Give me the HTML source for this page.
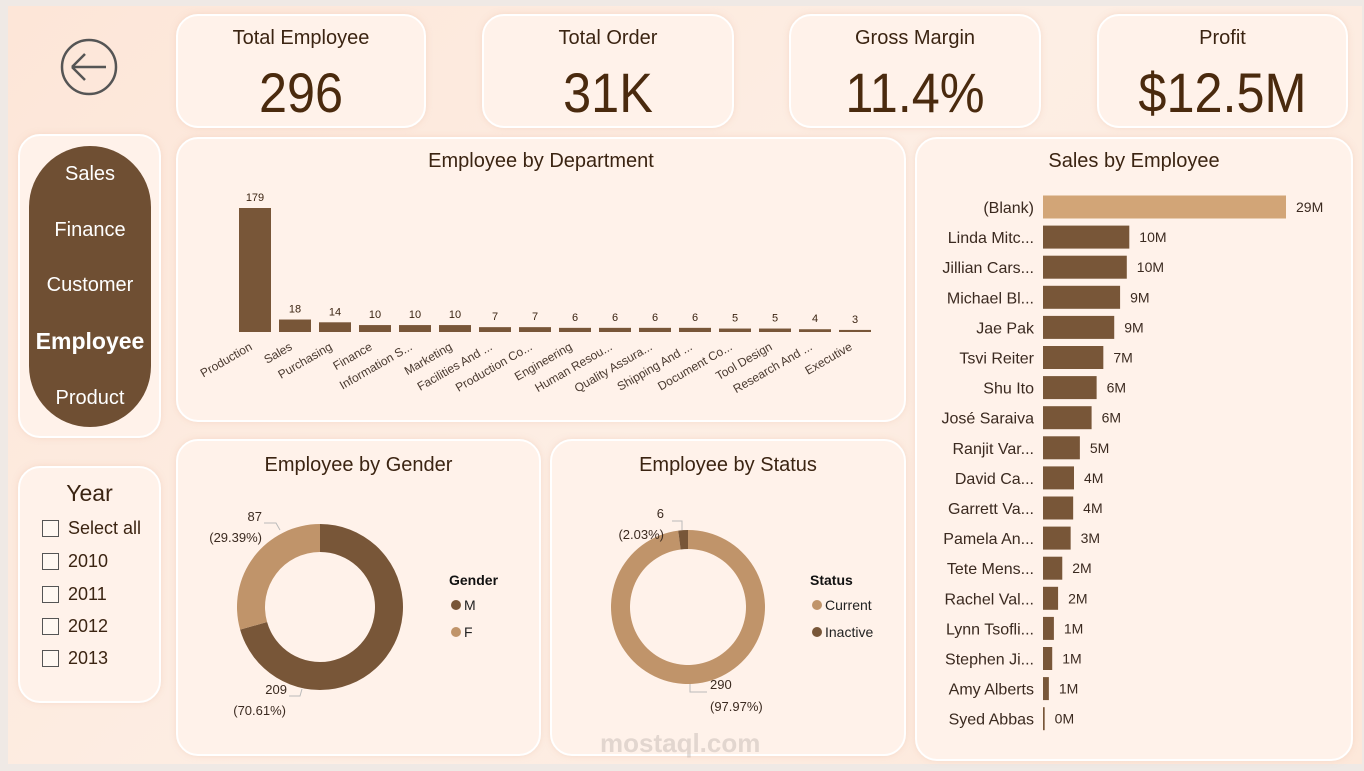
<!DOCTYPE html>
<html><head><meta charset="utf-8">
<style>
*{box-sizing:border-box;margin:0;padding:0}
body{width:1364px;height:771px;overflow:hidden;background:#efe9e5;font-family:"Liberation Sans",sans-serif;position:relative}
#bg{position:absolute;left:8px;top:6px;width:1354px;height:758px;background:linear-gradient(135deg,#fde6d8,#fdeee4 50%,#fde8da)}
.card{position:absolute;background:#fff2ea;border:2px solid #fff;border-radius:22px;box-shadow:0 0 6px rgba(240,200,180,.5)}
.kt{position:absolute;left:0;right:0;top:11px;text-align:center;font-size:20px;color:#3b2412}
.kv{position:absolute;left:0;right:0;top:44px;text-align:center;font-size:56px;color:#4a2a0e;transform:scaleX(.9)}
.ct{position:absolute;left:0;right:0;text-align:center;font-size:20px;color:#3b2412}
svg text{font-family:"Liberation Sans",sans-serif}
.nav{position:absolute;left:0;right:0;text-align:center;color:#fff;font-size:20px}
.yr{position:absolute;left:22px;font-size:18px;color:#3b2412;display:flex;align-items:center}
.yr span.b{display:inline-block;width:17px;height:17px;border:1.5px solid #555;margin-right:9px;background:#fff8f2}
</style></head><body>
<div id="bg"></div>

<svg style="position:absolute;left:58px;top:36px" width="62" height="62">
<circle cx="31" cy="31" r="27" fill="none" stroke="#555" stroke-width="2.5"/>
<path d="M14 31 H48 M14 31 L27 18 M14 31 L27 44" stroke="#555" stroke-width="2.5" fill="none"/>
</svg>

<div class="card" style="left:176px;top:14px;width:250px;height:114px"><div class="kt">Total Employee</div><div class="kv">296</div></div>
<div class="card" style="left:482px;top:14px;width:252px;height:114px"><div class="kt">Total Order</div><div class="kv">31K</div></div>
<div class="card" style="left:789px;top:14px;width:252px;height:114px"><div class="kt">Gross Margin</div><div class="kv">11.4%</div></div>
<div class="card" style="left:1097px;top:14px;width:251px;height:114px"><div class="kt">Profit</div><div class="kv">$12.5M</div></div>

<div class="card" style="left:18px;top:134px;width:143px;height:304px">
 <div style="position:absolute;left:9px;top:10px;width:122px;height:281px;background:#6f4f33;border-radius:61px">
  <div class="nav" style="top:17px">Sales</div>
  <div class="nav" style="top:73px">Finance</div>
  <div class="nav" style="top:128px">Customer</div>
  <div class="nav" style="top:182px;font-weight:bold;font-size:23px">Employee</div>
  <div class="nav" style="top:241px">Product</div>
 </div>
</div>

<div class="card" style="left:18px;top:466px;width:143px;height:237px">
 <div style="position:absolute;left:0;right:0;top:12px;text-align:center;font-size:23px;color:#3b2412">Year</div>
 <div class="yr" style="top:50px"><span class="b"></span>Select all</div>
 <div class="yr" style="top:83px"><span class="b"></span>2010</div>
 <div class="yr" style="top:116px"><span class="b"></span>2011</div>
 <div class="yr" style="top:148px"><span class="b"></span>2012</div>
 <div class="yr" style="top:180px"><span class="b"></span>2013</div>
</div>

<div class="card" style="left:176px;top:137px;width:730px;height:285px">
 <div class="ct" style="top:11px">Employee by Department</div>
</div>
<svg id="dept" style="position:absolute;left:176px;top:137px" width="730" height="285"></svg>

<div class="card" style="left:915px;top:137px;width:438px;height:624px">
 <div class="ct" style="top:11px">Sales by Employee</div>
</div>
<svg id="sales" style="position:absolute;left:915px;top:137px" width="438" height="624"></svg>

<div class="card" style="left:176px;top:439px;width:365px;height:317px">
 <div class="ct" style="top:13px">Employee by Gender</div>
</div>
<svg id="gender" style="position:absolute;left:176px;top:439px" width="365" height="317"></svg>

<div class="card" style="left:550px;top:439px;width:356px;height:317px">
 <div class="ct" style="top:13px">Employee by Status</div>
</div>
<svg id="status" style="position:absolute;left:550px;top:439px" width="356" height="317"></svg>

<div style="position:absolute;left:600px;top:728px;font-size:26px;font-weight:bold;color:rgba(190,180,175,.45)">mostaql.com</div>

<script>
const NS="http://www.w3.org/2000/svg";
function mk(p,t,a,txt){const e=document.createElementNS(NS,t);for(const k in a)e.setAttribute(k,a[k]);if(txt!==undefined)e.textContent=txt;p.appendChild(e);return e;}

// Department chart data
const deptCategories=["Production","Sales","Purchasing","Finance","Information S...","Marketing","Facilities And ...","Production Co...","Engineering","Human Resou...","Quality Assura...","Shipping And ...","Document Co...","Tool Design","Research And ...","Executive"];
const deptValues=[179,18,14,10,10,10,7,7,6,6,6,6,5,5,4,3];

// Sales by employee data
const salesNames=["(Blank)","Linda Mitc...","Jillian Cars...","Michael Bl...","Jae Pak","Tsvi Reiter","Shu Ito","José Saraiva","Ranjit Var...","David Ca...","Garrett Va...","Pamela An...","Tete Mens...","Rachel Val...","Lynn Tsofli...","Stephen Ji...","Amy Alberts","Syed Abbas"];
const salesValues=[29,10.3,10.0,9.2,8.5,7.2,6.4,5.8,4.4,3.7,3.6,3.3,2.3,1.8,1.3,1.1,0.7,0.2];
const salesLabels=["29M","10M","10M","9M","9M","7M","6M","6M","5M","4M","4M","3M","2M","2M","1M","1M","1M","0M"];

// Donut data
const genderCats=["M","F"];
const genderValues=[209,87];
const statusCats=["Current","Inactive"];
const statusValues=[290,6];

// Department chart
(function(){
 const s=document.getElementById('dept');
 const x0=63,step=40,bw=32,base=195,maxH=124,maxV=Math.max(...deptValues);
 const y=v=>base-v/maxV*maxH;
 deptValues.forEach((v,i)=>{
  const x=x0+i*step;
  const r=mk(s,'rect',{x:x,y:y(v),width:bw,height:base-y(v),fill:'#785638'});
  
  
  mk(s,'text',{x:x+bw/2,y:y(v)-7,'text-anchor':'middle','font-size':11,fill:'#3b2412'},v);
  const cx=x+bw/2-2,cy=base+17;
  mk(s,'text',{x:cx,y:cy,'text-anchor':'end','font-size':12,fill:'#4a3a30',transform:`rotate(-30 ${cx} ${cy})`},deptCategories[i]);
 });
})();

// Sales chart
(function(){
 const s=document.getElementById('sales');
 const x0=128,scale=243/29,y0=59,step=30.1,bh=23;
 salesValues.forEach((v,i)=>{
  const yc=y0+i*step+11;
  const w=Math.max(1,v*scale);
  const r=mk(s,'rect',{x:x0,y:yc-bh/2,width:w,height:bh,fill:i==0?'#d2a577':'#785638'});
  
  
  mk(s,'text',{x:x0-9,y:yc+6,'text-anchor':'end','font-size':16,fill:'#3b2a20'},salesNames[i]);
  mk(s,'text',{x:x0+w+10,y:yc+5,'font-size':14,fill:'#3b2a20'},salesLabels[i]);
 });
})();

function donut(svg,cx,cy,ro,ri,vals,cols){
 const tot=vals.reduce((a,b)=>a+b,0);let a=0;
 vals.forEach((v,i)=>{
  const a1=a+v/tot*2*Math.PI;
  const p=(r,t)=>[cx+r*Math.sin(t),cy-r*Math.cos(t)];
  const lg=(a1-a)>Math.PI?1:0;
  const [x1,y1]=p(ro,a),[x2,y2]=p(ro,a1),[x3,y3]=p(ri,a1),[x4,y4]=p(ri,a);
  const e=mk(svg,'path',{d:`M${x1} ${y1}A${ro} ${ro} 0 ${lg} 1 ${x2} ${y2}L${x3} ${y3}A${ri} ${ri} 0 ${lg} 0 ${x4} ${y4}Z`,fill:cols[i]});
  
  
  a=a1;
 });
}
const dk='#785638',lt='#c0946a';
(function(){
 const s=document.getElementById('gender');
 donut(s,144,168,83,55,genderValues,[dk,lt]);
 const tot=genderValues.reduce((a,b)=>a+b,0);
 const pct=v=>'('+(v/tot*100).toFixed(2)+'%)';
 mk(s,'text',{x:86,y:82,'text-anchor':'end','font-size':13,fill:'#3b2a20'},genderValues[1]);
 mk(s,'text',{x:86,y:103,'text-anchor':'end','font-size':13,fill:'#3b2a20'},pct(genderValues[1]));
 mk(s,'polyline',{points:'88,84 100,84 104,91',fill:'none',stroke:'#bbb'});
 mk(s,'text',{x:111,y:255,'text-anchor':'end','font-size':13,fill:'#3b2a20'},genderValues[0]);
 mk(s,'text',{x:110,y:276,'text-anchor':'end','font-size':13,fill:'#3b2a20'},pct(genderValues[0]));
 mk(s,'polyline',{points:'113,257 124,257 126,250',fill:'none',stroke:'#bbb'});
 mk(s,'text',{x:273,y:146,'font-size':14,'font-weight':'bold',fill:'#111'},'Gender');
 genderCats.forEach((c,i)=>{
  const g=mk(s,'g',{});
  
  
  mk(g,'circle',{cx:280,cy:166+i*27,r:5,fill:i?lt:dk});
  mk(g,'text',{x:288,y:171+i*27,'font-size':14,fill:'#222'},c);
 });
})();
(function(){
 const s=document.getElementById('status');
 donut(s,138,168,77,58,statusValues,[lt,dk]);
 const tot=statusValues.reduce((a,b)=>a+b,0);
 const pct=v=>'('+(v/tot*100).toFixed(2)+'%)';
 mk(s,'text',{x:114,y:79,'text-anchor':'end','font-size':13,fill:'#3b2a20'},statusValues[1]);
 mk(s,'text',{x:114,y:100,'text-anchor':'end','font-size':13,fill:'#3b2a20'},pct(statusValues[1]));
 mk(s,'polyline',{points:'122,82 132,82 132,91',fill:'none',stroke:'#bbb'});
 mk(s,'text',{x:160,y:250,'font-size':13,fill:'#3b2a20'},statusValues[0]);
 mk(s,'text',{x:160,y:272,'font-size':13,fill:'#3b2a20'},pct(statusValues[0]));
 mk(s,'polyline',{points:'140,245 140,253 157,253',fill:'none',stroke:'#bbb'});
 mk(s,'text',{x:260,y:146,'font-size':14,'font-weight':'bold',fill:'#111'},'Status');
 statusCats.forEach((c,i)=>{
  const g=mk(s,'g',{});
  
  
  mk(g,'circle',{cx:267,cy:166+i*27,r:5,fill:i?dk:lt});
  mk(g,'text',{x:275,y:171+i*27,'font-size':14,fill:'#222'},c);
 });
})();
</script>
</body></html>
